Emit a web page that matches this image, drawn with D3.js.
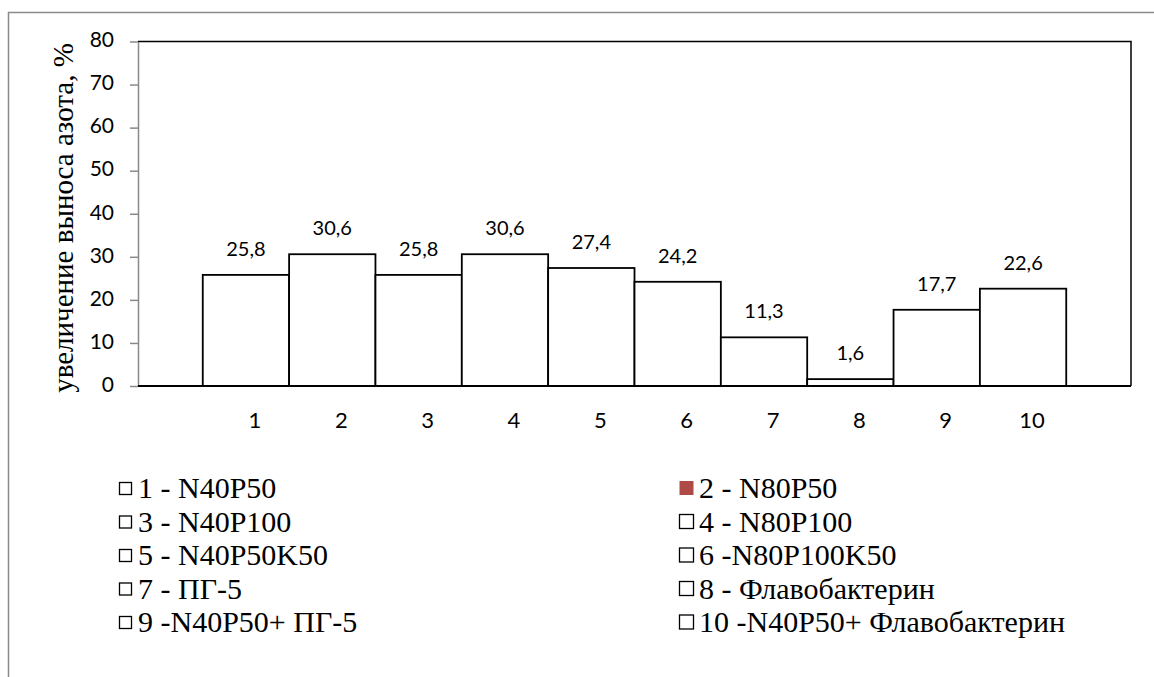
<!DOCTYPE html>
<html>
<head>
<meta charset="utf-8">
<script src="https://cdn.jsdelivr.net/npm/d3@7"></script>
<style>
  body { margin: 0; background: #fff; }
  svg { display: block; }
</style>
</head>
<body>
<div id="chart"></div>
<script>
// values
var categories = ["1", "2", "3", "4", "5", "6", "7", "8", "9", "10"];
var values = [25.8, 30.6, 25.8, 30.6, 27.4, 24.2, 11.3, 1.6, 17.7, 22.6];
var valueLabels = ["25,8", "30,6", "25,8", "30,6", "27,4", "24,2", "11,3", "1,6", "17,7", "22,6"];
var yTicks = [0, 10, 20, 30, 40, 50, 60, 70, 80];
var legendItems = ["1 - N40P50", "2 - N80P50", "3 - N40P100", "4 - N80P100", "5 - N40P50K50",
                   "6 -N80P100K50", "7 - ПГ-5", "8 - Флавобактерин", "9 -N40P50+ ПГ-5", "10 -N40P50+ Флавобактерин"];
var legendColors = ["#fff", "#af4a47", "#fff", "#fff", "#fff", "#fff", "#fff", "#fff", "#fff", "#fff"];
var yTitle = "увеличение выноса азота, %";

var width = 1154, height = 677;
var plot = {left: 138, right: 1131, top: 41.5, bottom: 386};
var SERIF = "font-family:'Liberation Serif';";
var SANS = "font-family:'Lato';";

var svg = d3.select("#chart").append("svg")
    .attr("width", width)
    .attr("height", height);

// outer chart frame (runs off the bottom/right of the picture)
svg.append("rect")
    .attr("x", 8.5).attr("y", 12.5)
    .attr("width", 1300).attr("height", 800)
    .attr("fill", "none")
    .attr("stroke", "#8a8a8a")
    .attr("stroke-width", 1.5);

var y = d3.scaleLinear().domain([0, 80]).range([plot.bottom, plot.top]);
var x = d3.scaleBand().domain(categories)
    .range([plot.left, plot.right])
    .paddingInner(0)
    .paddingOuter(0.75);

// plot area border: top and right black
svg.append("path")
    .attr("d", "M" + plot.left + "," + plot.top + "H" + plot.right + "V" + plot.bottom)
    .attr("fill", "none")
    .attr("stroke", "#000")
    .attr("stroke-width", 1.5);

// y axis
var yAxis = svg.append("g")
    .attr("transform", "translate(" + plot.left + ",0)")
    .call(d3.axisLeft(y).tickValues(yTicks).tickSize(8).tickPadding(16).tickSizeOuter(0));
yAxis.select(".domain").attr("stroke", "#8a8a8a").attr("stroke-width", 1.5);
yAxis.selectAll(".tick line").attr("stroke", "#8a8a8a").attr("stroke-width", 1.5);
yAxis.selectAll(".tick text")
    .attr("style", SANS + "font-size:21px")
    .attr("fill", "#000")
    .attr("dy", "0.25em");

// bars
svg.selectAll(".bar")
    .data(values)
    .enter().append("rect")
    .attr("class", "bar")
    .attr("x", function(d, i) { return x(categories[i]); })
    .attr("y", function(d) { return y(d); })
    .attr("width", x.bandwidth())
    .attr("height", function(d) { return y(0) - y(d); })
    .attr("fill", "#fff")
    .attr("stroke", "#000")
    .attr("stroke-width", 1.8);

// x axis line
svg.append("line")
    .attr("x1", plot.left).attr("x2", plot.right)
    .attr("y1", plot.bottom).attr("y2", plot.bottom)
    .attr("stroke", "#000")
    .attr("stroke-width", 2);

// value labels
svg.selectAll(".val")
    .data(values)
    .enter().append("text")
    .attr("class", "val")
    .attr("x", function(d, i) { return x(categories[i]) + x.bandwidth() / 2; })
    .attr("y", function(d) { return y(d) - 19; })
    .attr("text-anchor", "middle")
    .attr("style", SANS + "font-size:20px")
    .text(function(d, i) { return valueLabels[i]; });

// category labels (sit a little right of the bar centres in the original)
svg.selectAll(".cat")
    .data(categories)
    .enter().append("text")
    .attr("class", "cat")
    .attr("x", function(d) { return x(d) + x.bandwidth() / 2 + 9; })
    .attr("y", plot.bottom + 42)
    .attr("text-anchor", "middle")
    .attr("style", SANS + "font-size:22px")
    .text(function(d) { return d; });

// y title
svg.append("text")
    .attr("transform", "translate(73,218) rotate(-90)")
    .attr("text-anchor", "middle")
    .attr("style", SERIF + "font-size:29px")
    .text(yTitle);

// legend, two columns
var legend = svg.selectAll(".leg")
    .data(legendItems)
    .enter().append("g")
    .attr("class", "leg")
    .attr("transform", function(d, i) {
        var col = i % 2, row = Math.floor(i / 2);
        return "translate(" + (col === 0 ? 119 : 679) + "," + (498 + row * 33.5) + ")";
    });

legend.append("rect")
    .attr("x", 0.5)
    .attr("y", function(d, i) { return i % 2 === 0 ? -15.5 : -17; })
    .attr("width", function(d, i) { return i % 2 === 0 ? 12 : 14; })
    .attr("height", function(d, i) { return i % 2 === 0 ? 12 : 14; })
    .attr("fill", function(d, i) { return legendColors[i]; })
    .attr("stroke", function(d, i) { return i === 1 ? "none" : "#000"; })
    .attr("stroke-width", 1.3);

legend.append("text")
    .attr("x", function(d, i) { return i % 2 === 0 ? 19 : 20; })
    .attr("y", 0)
    .attr("style", SERIF + "font-size:30px")
    .text(function(d) { return d; });
</script>
</body>
</html>
